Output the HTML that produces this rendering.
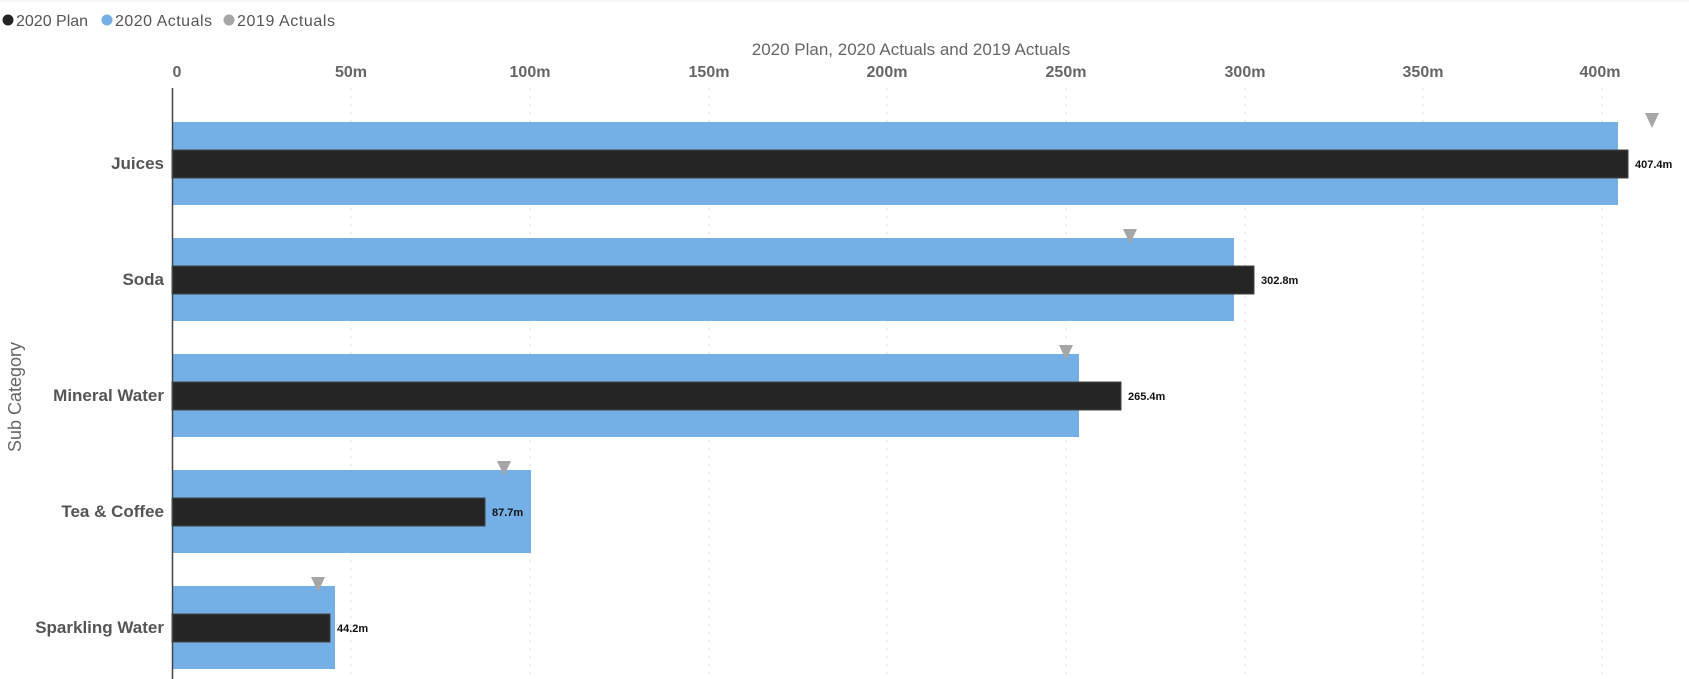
<!DOCTYPE html>
<html><head><meta charset="utf-8"><style>
body{margin:0;background:#fff;}
svg{display:block;font-family:"Liberation Sans",sans-serif;}
</style></head><body>
<svg width="1689" height="679" viewBox="0 0 1689 679">
<line x1="0" y1="1" x2="1689" y2="1" stroke="#eee"/>
<!-- legend -->
<circle cx="8" cy="20" r="5.5" fill="#252525"/>
<text x="16" y="26" font-size="16" fill="#555">2020 Plan</text>
<circle cx="107" cy="20" r="5.5" fill="#74b0e6"/>
<text x="115" y="26" font-size="16" fill="#555" textLength="97">2020 Actuals</text>
<circle cx="229" cy="20" r="5.5" fill="#a6a6a6"/>
<text x="237" y="26" font-size="16" fill="#555" textLength="98">2019 Actuals</text>
<text x="911" y="55" font-size="17" fill="#666" text-anchor="middle">2020 Plan, 2020 Actuals and 2019 Actuals</text>
<!-- ticks & grid -->
<g font-size="16" font-weight="bold" fill="#666" text-anchor="middle">
<text x="177" y="77">0</text>
<text x="351" y="77">50m</text>
<text x="530" y="77">100m</text>
<text x="709" y="77">150m</text>
<text x="887" y="77">200m</text>
<text x="1066" y="77">250m</text>
<text x="1245" y="77">300m</text>
<text x="1423" y="77">350m</text>
<text x="1600" y="77">400m</text>
</g>
<g stroke="#ddd" stroke-dasharray="2,6">
<line x1="351" y1="88" x2="351" y2="679"/>
<line x1="530" y1="88" x2="530" y2="679"/>
<line x1="709" y1="88" x2="709" y2="679"/>
<line x1="887" y1="88" x2="887" y2="679"/>
<line x1="1066" y1="88" x2="1066" y2="679"/>
<line x1="1245" y1="88" x2="1245" y2="679"/>
<line x1="1423" y1="88" x2="1423" y2="679"/>
<line x1="1602" y1="88" x2="1602" y2="679"/>
</g>
<text transform="translate(21,397) rotate(-90)" font-size="18" fill="#666" text-anchor="middle">Sub Category</text>
<!-- bars -->
<g fill="#74b0e6">
<rect x="172" y="122" width="1446" height="83"/>
<rect x="172" y="238" width="1062" height="83"/>
<rect x="172" y="354" width="907" height="83"/>
<rect x="172" y="470" width="359" height="83"/>
<rect x="172" y="586" width="163" height="83"/>
</g>
<g fill="#252525" stroke="#444" stroke-width="1">
<rect x="172" y="150" width="1456" height="28"/>
<rect x="172" y="266" width="1082" height="28"/>
<rect x="172" y="382" width="949" height="28"/>
<rect x="172" y="498" width="313" height="28"/>
<rect x="172" y="614" width="158" height="28"/>
</g>
<g fill="#a6a6a6">
<polygon points="1645,113 1659,113 1652,128"/>
<polygon points="1123,229 1137,229 1130,244"/>
<polygon points="1059,345 1073,345 1066,360"/>
<polygon points="497,461 511,461 504,476"/>
<polygon points="311,577 325,577 318,592"/>
</g>
<g font-size="11" font-weight="bold" fill="#111">
<text x="1635" y="168">407.4m</text>
<text x="1261" y="284">302.8m</text>
<text x="1128" y="400">265.4m</text>
<text x="492" y="516">87.7m</text>
<text x="337" y="632">44.2m</text>
</g>
<g font-size="17" font-weight="bold" fill="#555" text-anchor="end">
<text x="164" y="169">Juices</text>
<text x="164" y="285">Soda</text>
<text x="164" y="401">Mineral Water</text>
<text x="164" y="517">Tea &amp; Coffee</text>
<text x="164" y="633">Sparkling Water</text>
</g>
<line x1="172.5" y1="88" x2="172.5" y2="679" stroke="#444" stroke-width="1.5"/>
</svg>
</body></html>
